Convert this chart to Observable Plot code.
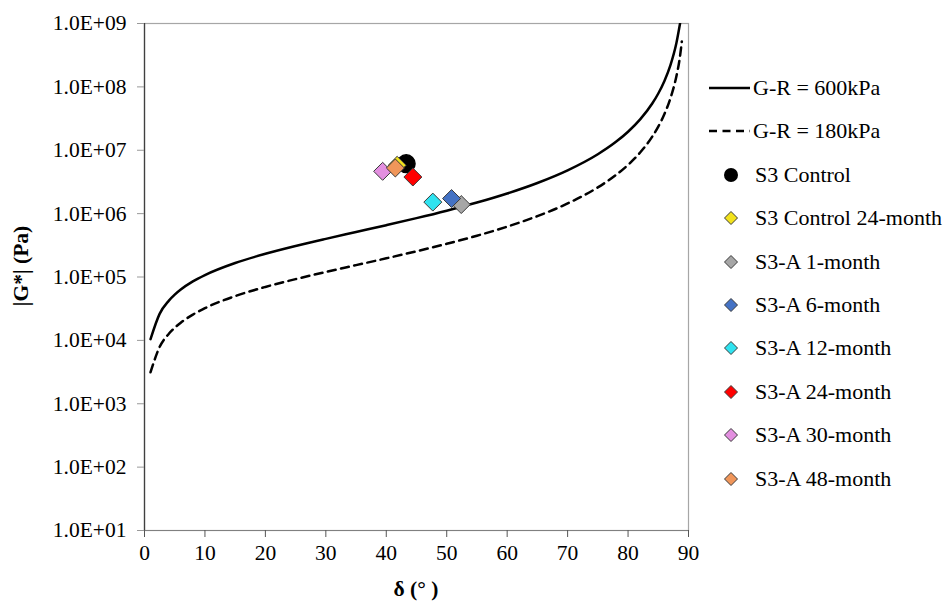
<!DOCTYPE html>
<html>
<head>
<meta charset="utf-8">
<script src="https://cdn.jsdelivr.net/npm/d3@7"></script>
<script src="https://cdn.jsdelivr.net/npm/@observablehq/plot@0.6"></script>
<style>
  html, body { margin: 0; padding: 0; background: #fff; }
  #wrap { position: relative; width: 946px; height: 605px; font-family: "Liberation Serif", "Times New Roman", serif; color: #000; }
  #wrap svg { display: block; }
  .lab { position: absolute; font-size: 21.5px; font-weight: bold; white-space: nowrap; }
  .leg { position: absolute; left: 705px; height: 30px; display: flex; align-items: center; font-size: 22px; white-space: nowrap; }
  .leg svg { flex: none; }
</style>
</head>
<body>
<div id="wrap"></div>
<script>
// ---- data ----
const deltaGR600 = [1, 2.5, 4, 5, 6, 8, 10, 15, 20, 25, 30, 35, 40, 45, 50, 55, 60, 65, 70, 75, 78, 80, 82, 84, 85, 86, 87, 88, 88.6];
const gGR600 = [10475, 26221, 42058, 52694, 63410, 85153, 107428, 166440, 232397, 308708, 400000, 512877, 657221, 848528, 1112432, 1493940, 2078461, 3044604, 4819844, 8651748, 13576920, 19595640, 30675600, 54612000, 78687600, 123006000, 218748000, 492312000, 1000000000];
const deltaGR180 = [1, 2.5, 4, 5, 6, 8, 10, 15, 20, 25, 30, 35, 40, 45, 50, 55, 60, 65, 70, 75, 78, 80, 82, 84, 85, 86, 87, 88, 88.5, 88.9];
const gGR180 = [3143, 7866, 12617, 15808, 19023, 25546, 32228, 49932, 69719, 92612, 120000, 153863, 197166, 254558, 333730, 448182, 623538, 913381, 1445953, 2595524, 4073076, 5878692, 9202680, 16383600, 23606280, 36901800, 65624400, 147693600, 262594800, 520000000];

const seriesNames = ["S3 Control", "S3 Control 24-month", "S3-A 1-month", "S3-A 6-month", "S3-A 12-month", "S3-A 24-month", "S3-A 30-month", "S3-A 48-month"];
const seriesDelta = [43.3, 41.8, 52.4, 50.8, 47.7, 44.4, 39.4, 41.5];
const seriesG = [6.15e6, 5.79e6, 1.39e6, 1.73e6, 1.52e6, 3.78e6, 4.65e6, 5.25e6];
const seriesColors = ["#000000", "#F2E21C", "#A6A6A6", "#4472C4", "#2FE3F0", "#FF0000", "#E38FE0", "#F0965A"];
const seriesSymbols = ["circle", "diamond", "diamond", "diamond", "diamond", "diamond", "diamond", "diamond"];

const lineNames = ["G-R = 600kPa", "G-R = 180kPa"];
const xTicks = [0, 10, 20, 30, 40, 50, 60, 70, 80, 90];
const yTicks = [1e1, 1e2, 1e3, 1e4, 1e5, 1e6, 1e7, 1e8, 1e9];
const xTitle = "δ (° )";
const yTitle = "|G*| (Pa)";

// ---- build tables ----
const gr600 = deltaGR600.map((d, i) => ({delta: d, g: gGR600[i]}));
const gr180 = deltaGR180.map((d, i) => ({delta: d, g: gGR180[i]}));
const pts = seriesNames.map((n, i) => ({name: n, delta: seriesDelta[i], g: seriesG[i], color: seriesColors[i], sym: seriesSymbols[i]}));
const circlePts = pts.filter(p => p.sym === "circle");
const diamondPts = pts.filter(p => p.sym === "diamond");

const fmt = d => "1.0E+" + String(Math.round(Math.log10(d))).padStart(2, "0");

const chart = Plot.plot({
  width: 946,
  height: 605,
  marginLeft: 144,
  marginRight: 258,
  marginTop: 23,
  marginBottom: 75,
  style: {fontFamily: "'Liberation Serif', 'Times New Roman', serif", fontSize: "21.5px", color: "#000", background: "#fff"},
  x: {domain: [0, 90]},
  y: {type: "log", domain: [10, 1e9]},
  color: {type: "identity"},
  marks: [
    Plot.frame({stroke: "#a6a6a6", strokeWidth: 1.2}),
    Plot.ruleY([10], {stroke: "#808080", strokeWidth: 1.2}),
    Plot.ruleX([0], {stroke: "#404040", strokeWidth: 1.3}),
    Plot.axisX({ticks: xTicks, tickSize: 7, tickPadding: 7, tickFormat: d => String(d), label: null, stroke: "#555", fill: "#000"}),
    Plot.axisY({ticks: yTicks, tickSize: 7, tickPadding: 11, tickFormat: fmt, label: null, stroke: "#999", fill: "#000"}),
    Plot.line(gr180, {x: "delta", y: "g", stroke: "#000", strokeWidth: 2.5, strokeDasharray: "8,5.5", curve: "monotone-x", clip: true}),
    Plot.line(gr600, {x: "delta", y: "g", stroke: "#000", strokeWidth: 2.5, curve: "monotone-x", clip: true}),
    Plot.dot(circlePts, {x: "delta", y: "g", r: 8.8, fill: "color", stroke: "color", symbol: "circle"}),
    Plot.dot(diamondPts, {x: "delta", y: "g", r: 8.1, fill: "color", stroke: "#3a3a3a", strokeWidth: 1, symbol: "diamond2"})
  ]
});

const wrap = document.getElementById("wrap");
wrap.appendChild(chart);

// axis titles
const xl = document.createElement("div");
xl.className = "lab";
xl.textContent = xTitle;
xl.style.left = "416px";
xl.style.top = "589px";
xl.style.transform = "translate(-50%, -50%)";
wrap.appendChild(xl);

const yl = document.createElement("div");
yl.className = "lab";
yl.textContent = yTitle;
yl.style.left = "21px";
yl.style.top = "266px";
yl.style.transform = "translate(-50%, -50%) rotate(-90deg)";
wrap.appendChild(yl);

// legend
const rowY0 = 88, rowStep = 43.4;
function addRow(i, svgInner, text, textGap) {
  const row = document.createElement("div");
  row.className = "leg";
  row.style.top = (rowY0 + i * rowStep - 15) + "px";
  row.innerHTML = `<svg width="48" height="30" viewBox="0 0 48 30">${svgInner}</svg><span style="margin-left:${textGap}px">${text}</span>`;
  wrap.appendChild(row);
}
addRow(0, `<line x1="4" y1="15" x2="45" y2="15" stroke="#000" stroke-width="2.5"/>`, lineNames[0], 0);
addRow(1, `<line x1="4" y1="15" x2="45" y2="15" stroke="#000" stroke-width="2.5" stroke-dasharray="8,5.5"/>`, lineNames[1], 0);
pts.forEach((p, i) => {
  const c = 26;
  const inner = p.sym === "circle"
    ? `<circle cx="${c}" cy="15" r="7" fill="${p.color}"/>`
    : `<path d="M${c},${15 - 6.5}L${c + 6.5},15L${c},${15 + 6.5}L${c - 6.5},15Z" fill="${p.color}" stroke="#3a3a3a" stroke-width="1"/>`;
  addRow(i + 2, inner, p.name, 2);
});
</script>
</body>
</html>
